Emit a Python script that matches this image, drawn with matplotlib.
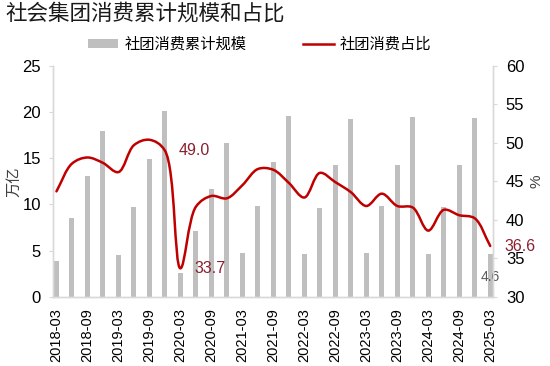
import matplotlib
matplotlib.use('Agg')

import matplotlib.pyplot as plt
import numpy as np
from matplotlib.path import Path
from matplotlib.patches import PathPatch, Patch
from matplotlib.lines import Line2D

plt.rcParams['font.family'] = ['Liberation Sans', 'Noto Sans CJK SC', 'DejaVu Sans']

# quarterly periods 2018-03 .. 2025-03
quarters = ['2018-03', '2018-06', '2018-09', '2018-12',
            '2019-03', '2019-06', '2019-09', '2019-12',
            '2020-03', '2020-06', '2020-09', '2020-12',
            '2021-03', '2021-06', '2021-09', '2021-12',
            '2022-03', '2022-06', '2022-09', '2022-12',
            '2023-03', '2023-06', '2023-09', '2023-12',
            '2024-03', '2024-06', '2024-09', '2024-12',
            '2025-03']

# 社团消费累计规模 (万亿)
group_scale = [3.9, 8.5, 13.1, 18.0, 4.5, 9.7, 14.9, 20.1,
               2.6, 7.1, 11.7, 16.7, 4.7, 9.8, 14.6, 19.6,
               4.6, 9.6, 14.3, 19.2, 4.7, 9.8, 14.3, 19.5,
               4.6, 9.7, 14.3, 19.4, 4.6]

# 社团消费占比 (%)
group_share = [43.7, 47.3, 48.1, 47.4, 46.2, 49.7, 50.4, 49.0,
               33.7, 41.7, 43.1, 42.8, 44.5, 46.6, 46.5, 44.8,
               42.9, 46.1, 44.9, 43.6, 41.8, 43.4, 41.8, 41.6,
               38.6, 41.3, 40.6, 40.2, 36.6]

# labelled points (indices)
share_labels = [7, 8, 28]
scale_labels = [28]

BAR_COLOR = '#BFBFBF'
LINE_COLOR = '#C00000'
LABEL_RED = '#8C1F2E'
AXIS_GRAY = '#D9D9D9'


def smooth_path(ax, xs, ys, alpha=0.5):
    """Centripetal Catmull-Rom through the points, as cubic Bezier pieces,
    worked out in pixel space (spreadsheet-style smoothed line)."""
    pts = ax.transData.transform(np.column_stack([xs, ys]).astype(float))
    ext = np.vstack([2 * pts[0] - pts[1], pts, 2 * pts[-1] - pts[-2]])
    verts = [pts[0]]
    codes = [Path.MOVETO]
    for i in range(1, len(ext) - 2):
        p0, p1, p2, p3 = ext[i - 1], ext[i], ext[i + 1], ext[i + 2]
        d1 = np.hypot(*(p1 - p0)) ** alpha
        d2 = np.hypot(*(p2 - p1)) ** alpha
        d3 = np.hypot(*(p3 - p2)) ** alpha
        c1 = p1 + (d1 ** 2 * (p2 - p1) - d2 ** 2 * (p0 - p1)) / (3 * d1 * (d1 + d2))
        c2 = p2 + (d3 ** 2 * (p1 - p2) - d2 ** 2 * (p3 - p2)) / (3 * d3 * (d3 + d2))
        verts += [c1, c2, p2]
        codes += [Path.CURVE4] * 3
    verts = ax.transData.inverted().transform(np.array(verts))
    return Path(verts, codes)


fig = plt.figure(figsize=(5.5, 3.66), dpi=100)
ax = fig.add_axes([0.097, 0.189, 0.800, 0.631])
ax2 = ax.twinx()

x = np.arange(len(quarters))
ax.bar(x, group_scale, width=0.32, color=BAR_COLOR, zorder=2)
ax.set_xlim(-0.2, len(quarters) - 0.8)
ax.set_ylim(0, 25)
ax.set_yticks(np.arange(0, 26, 5))
ax.set_xticks(x[::2])
ax.set_xticklabels(quarters[::2], rotation=90, fontsize=10.5)
ax.tick_params(axis='x', length=0, pad=8)
ax.tick_params(axis='y', labelsize=12, length=3, color=AXIS_GRAY, pad=6)
ax.set_ylabel('万亿', fontsize=11, color='#404040', labelpad=1)

ax2.set_ylim(30, 60)
ax2.set_yticks(np.arange(30, 61, 5))
ax2.tick_params(axis='y', labelsize=12, length=3, color=AXIS_GRAY, pad=6)
ax2.set_ylabel('%', fontsize=11, color='#404040', labelpad=4)
ax2.add_patch(PathPatch(smooth_path(ax2, x, group_share), facecolor='none',
                        edgecolor=LINE_COLOR, linewidth=1.8, zorder=3,
                        capstyle='round', joinstyle='round'))

for a in (ax, ax2):
    a.spines['top'].set_visible(False)
    for side in ('left', 'right', 'bottom'):
        a.spines[side].set_color(AXIS_GRAY)
        a.spines[side].set_linewidth(1.0)

for i in share_labels:
    ax2.annotate(f'{group_share[i]:.1f}', xy=(x[i], group_share[i]),
                 xytext=(10, 0), textcoords='offset points',
                 ha='left', va='center', fontsize=11.5, color=LABEL_RED)

for i in scale_labels:
    ax.annotate(f'{group_scale[i]:.1f}', xy=(x[i], group_scale[i]),
                xytext=(0, -16), textcoords='offset points',
                ha='center', va='center', fontsize=10, color='#595959', zorder=5)

fig.text(0.009, 1 - 14 / 366, '社会集团消费累计规模和占比', fontsize=15.5,
         ha='left', va='center', color='#1a1a1a')

handles = [Patch(facecolor=BAR_COLOR, edgecolor='none'),
           Line2D([0], [0], color=LINE_COLOR, linewidth=1.8)]
fig.legend(handles, ['社团消费累计规模', '社团消费占比'], loc='center',
           bbox_to_anchor=(0.472, 1 - 44.5 / 366), ncol=2, frameon=False,
           fontsize=11, handlelength=2.0, handleheight=0.5,
           columnspacing=3.7, handletextpad=0.4)

fig.savefig('out.png', dpi=100)
